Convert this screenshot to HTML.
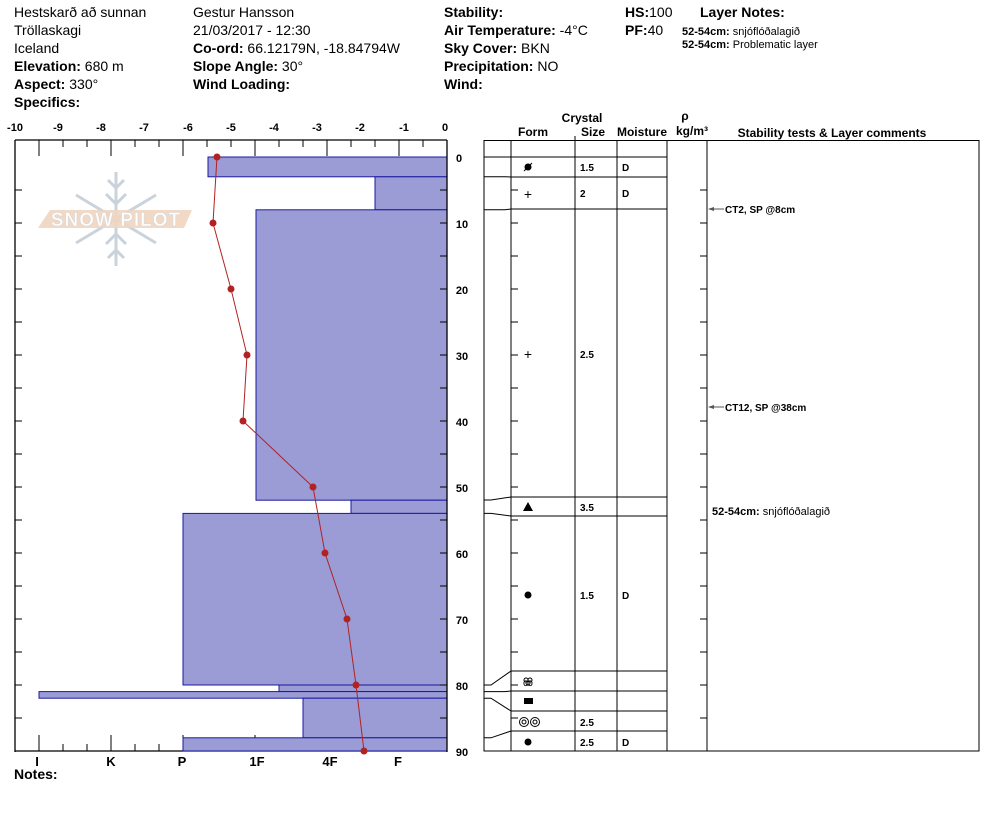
<!DOCTYPE html>
<html><head><meta charset="utf-8"><style>
body{margin:0;background:#fff;}
svg{display:block;font-family:"Liberation Sans",Arial,sans-serif;}
.h{font-size:14px;fill:#000;}
.b{font-weight:bold;}
.s{font-size:11px;font-weight:bold;}
</style></head><body>
<svg width="994" height="840" viewBox="0 0 994 840" xmlns="http://www.w3.org/2000/svg">
<!-- header -->
<g class="h">
<text x="14" y="17">Hestskarð að sunnan</text>
<text x="14" y="35">Tröllaskagi</text>
<text x="14" y="53">Iceland</text>
<text x="14" y="71"><tspan class="b">Elevation:</tspan> 680 m</text>
<text x="14" y="89"><tspan class="b">Aspect:</tspan> 330°</text>
<text x="14" y="107" class="b">Specifics:</text>
<text x="193" y="17">Gestur Hansson</text>
<text x="193" y="35">21/03/2017 - 12:30</text>
<text x="193" y="53"><tspan class="b">Co-ord:</tspan> 66.12179N, -18.84794W</text>
<text x="193" y="71"><tspan class="b">Slope Angle:</tspan> 30°</text>
<text x="193" y="89" class="b">Wind Loading:</text>
<text x="444" y="17" class="b">Stability:</text>
<text x="444" y="35"><tspan class="b">Air Temperature:</tspan> -4°C</text>
<text x="444" y="53"><tspan class="b">Sky Cover:</tspan> BKN</text>
<text x="444" y="71"><tspan class="b">Precipitation:</tspan> NO</text>
<text x="444" y="89" class="b">Wind:</text>
<text x="625" y="17"><tspan class="b">HS:</tspan>100</text>
<text x="625" y="35"><tspan class="b">PF:</tspan>40</text>
<text x="700" y="17" class="b">Layer Notes:</text>
</g>
<text x="682" y="35" font-size="11"><tspan font-weight="bold">52-54cm:</tspan> snjóflóðalagið</text>
<text x="682" y="48" font-size="11"><tspan font-weight="bold">52-54cm:</tspan> Problematic layer</text>

<!-- logo -->
<g stroke="#c5cfd8" stroke-width="3" fill="none" opacity="0.9">
<line x1="116" y1="172" x2="116" y2="266"/>
<line x1="76" y1="195" x2="156" y2="243"/>
<line x1="76" y1="243" x2="156" y2="195"/>
<path d="M108 180 L116 188 L124 180 M106 194 L116 204 L126 194 M108 258 L116 250 L124 258 M106 244 L116 234 L126 244"/>
</g>
<polygon points="50,210 192,210 184,228 38,228" fill="#f0d5c0" opacity="0.9"/>
<text x="116" y="226" text-anchor="middle" font-size="19" font-weight="bold" fill="#fff" stroke="#d8d8d8" stroke-width="0.6" letter-spacing="1">SNOW PILOT</text>

<!-- top scale -->
<g class="s" text-anchor="middle">
<text x="15" y="131">-10</text><text x="58" y="131">-9</text><text x="101" y="131">-8</text><text x="144" y="131">-7</text><text x="188" y="131">-6</text><text x="231" y="131">-5</text><text x="274" y="131">-4</text><text x="317" y="131">-3</text><text x="360" y="131">-2</text><text x="404" y="131">-1</text><text x="445" y="131">0</text>
</g>
<g stroke="#000" stroke-width="1.3">
<line x1="15" y1="140" x2="447" y2="140"/>
<line x1="15" y1="140" x2="15" y2="752"/>
<line x1="15" y1="751" x2="447" y2="751"/>
</g>
<g stroke="#000" stroke-width="1">
<path d="M15 140v16M39 140v16M63 140v7M87 140v7M111 140v16M135 140v7M159 140v7M183 140v16M207 140v7M231 140v7M255 140v16M279 140v7M303 140v7M327 140v16M351 140v7M375 140v7M399 140v16M423 140v7M447 140v16"/>
<path d="M39 751v-16M63 751v-7M87 751v-7M111 751v-16M135 751v-7M159 751v-7M183 751v-16M207 751v-7M231 751v-7M255 751v-16M279 751v-7M303 751v-7M327 751v-16M351 751v-7M375 751v-7M399 751v-16M423 751v-7"/>
</g>

<!-- bars -->
<g fill="#9b9bd5" stroke="#1a1aa0" stroke-width="1">
<rect x="208" y="157" width="239" height="19.8"/>
<rect x="375" y="176.8" width="72" height="33"/>
<rect x="256" y="209.8" width="191" height="290.4"/>
<rect x="351" y="500.2" width="96" height="13.2"/>
<rect x="183" y="513.4" width="264" height="171.6"/>
<rect x="279" y="685" width="168" height="6.6"/>
<rect x="39" y="691.6" width="408" height="6.6"/>
<rect x="303" y="698.2" width="144" height="39.6"/>
<rect x="183" y="737.8" width="264" height="13.2"/>
</g>
<line x1="447" y1="140" x2="447" y2="752" stroke="#000" stroke-width="1.3"/>
<!-- depth ticks -->
<g stroke="#000" stroke-width="1">
<path d="M15 190h7M15 223h7M15 256h7M15 289h7M15 322h7M15 355h7M15 388h7M15 421h7M15 454h7M15 487h7M15 520h7M15 553h7M15 586h7M15 619h7M15 652h7M15 685h7M15 718h7"/>
<path d="M440 190h7M440 223h7M440 256h7M440 289h7M440 322h7M440 355h7M440 388h7M440 421h7M440 454h7M440 487h7M440 520h7M440 553h7M440 586h7M440 619h7M440 652h7M440 685h7M440 718h7"/>
</g>
<!-- temperature -->
<polyline points="217,157 213,223 231,289 247,355 243,421 313,487 325,553 347,619 356,685 364,751" fill="none" stroke="#b22222" stroke-width="1"/>
<g fill="#b22222">
<circle cx="217" cy="157" r="3.5"/><circle cx="213" cy="223" r="3.5"/><circle cx="231" cy="289" r="3.5"/><circle cx="247" cy="355" r="3.5"/><circle cx="243" cy="421" r="3.5"/><circle cx="313" cy="487" r="3.5"/><circle cx="325" cy="553" r="3.5"/><circle cx="347" cy="619" r="3.5"/><circle cx="356" cy="685" r="3.5"/><circle cx="364" cy="751" r="3.5"/>
</g>
<!-- bottom labels -->
<g font-size="13" font-weight="bold" text-anchor="middle">
<text x="37" y="766">I</text><text x="111" y="766">K</text><text x="182" y="766">P</text><text x="257" y="766">1F</text><text x="330" y="766">4F</text><text x="398" y="766">F</text>
</g>
<text x="14" y="779" font-size="14" font-weight="bold">Notes:</text>
<!-- depth labels -->
<g class="s" font-size="12" text-anchor="middle">
<text x="459" y="162">0</text><text x="462" y="228">10</text><text x="462" y="294">20</text><text x="462" y="360">30</text><text x="462" y="426">40</text><text x="462" y="492">50</text><text x="462" y="558">60</text><text x="462" y="624">70</text><text x="462" y="690">80</text><text x="462" y="756">90</text>
</g>

<!-- table header -->
<g font-size="12" font-weight="bold" text-anchor="middle">
<text x="582" y="122">Crystal</text>
<text x="533" y="136">Form</text>
<text x="593" y="136">Size</text>
<text x="642" y="136">Moisture</text>
<text x="685" y="120">ρ</text>
<text x="692" y="135">kg/m³</text>
<text x="832" y="137">Stability tests &amp; Layer comments</text>
</g>
<g stroke="#000" stroke-width="1" fill="none">
<rect x="484" y="140.5" width="495" height="610.5"/>
<line x1="511" y1="140" x2="511" y2="751"/>
<line x1="575" y1="136" x2="575" y2="751"/>
<line x1="617" y1="140" x2="617" y2="751"/>
<line x1="667" y1="140" x2="667" y2="751"/>
<line x1="707" y1="140" x2="707" y2="751"/>
<path d="M511 157H667M511 177H667M511 209H667M511 497H667M511 516H667M511 671H667M511 691H667M511 711H667M511 731H667"/>
<path d="M484 157H511M484 176.8H505L511 177M484 209.8H505L511 209M484 500H491L511 497M484 513.4H491L511 516M484 685H491L511 671M484 691.6H505L511 691M484 698.2H491L511 711M484 737.8H491L511 731"/>
<path d="M511 190h7M511 223h7M511 256h7M511 289h7M511 322h7M511 355h7M511 388h7M511 421h7M511 454h7M511 487h7M511 520h7M511 553h7M511 586h7M511 619h7M511 652h7M511 685h7M511 718h7"/>
<path d="M700 190h7M700 223h7M700 256h7M700 289h7M700 322h7M700 355h7M700 388h7M700 421h7M700 454h7M700 487h7M700 520h7M700 553h7M700 586h7M700 619h7M700 652h7M700 685h7M700 718h7"/>
</g>
<!-- form symbols -->
<g fill="#000">
<circle cx="528" cy="167" r="3.5"/><line x1="524" y1="171" x2="532" y2="163" stroke="#000"/>
<text x="528" y="199" font-size="14" text-anchor="middle">+</text>
<text x="528" y="359" font-size="14" text-anchor="middle">+</text>
<polygon points="528,502 533,511 523,511"/>
<circle cx="528" cy="595" r="3.5"/>
<text x="528" y="686" font-size="10" text-anchor="middle">ꝏ</text>
<rect x="524" y="698" width="9" height="6"/>
<circle cx="528" cy="742" r="3.5"/>
</g>
<g fill="none" stroke="#000" stroke-width="1">
<circle cx="524" cy="722" r="4.5"/><circle cx="524" cy="722" r="2"/>
<circle cx="535" cy="722" r="4.5"/><circle cx="535" cy="722" r="2"/>
<circle cx="526" cy="680" r="2"/><circle cx="530" cy="680" r="2"/><circle cx="528" cy="683" r="2"/>
</g>
<g font-size="10" font-weight="bold">
<text x="580" y="171">1.5</text><text x="622" y="171">D</text>
<text x="580" y="197">2</text><text x="622" y="197">D</text>
<text x="580" y="358">2.5</text>
<text x="580" y="511">3.5</text>
<text x="580" y="599">1.5</text><text x="622" y="599">D</text>
<text x="580" y="726">2.5</text>
<text x="580" y="746">2.5</text><text x="622" y="746">D</text>
</g>
<!-- stability comments -->
<g stroke="#555" stroke-width="1"><line x1="709" y1="209" x2="724" y2="209"/><line x1="709" y1="407" x2="724" y2="407"/></g>
<polygon points="708,209 714,207 714,211" fill="#555"/>
<polygon points="708,407 714,405 714,409" fill="#555"/>
<text x="725" y="213" font-size="10" font-weight="bold">CT2, SP @8cm</text>
<text x="725" y="411" font-size="10" font-weight="bold">CT12, SP @38cm</text>
<text x="712" y="515" font-size="11"><tspan font-weight="bold">52-54cm:</tspan> snjóflóðalagið</text>
</svg>
</body></html>
